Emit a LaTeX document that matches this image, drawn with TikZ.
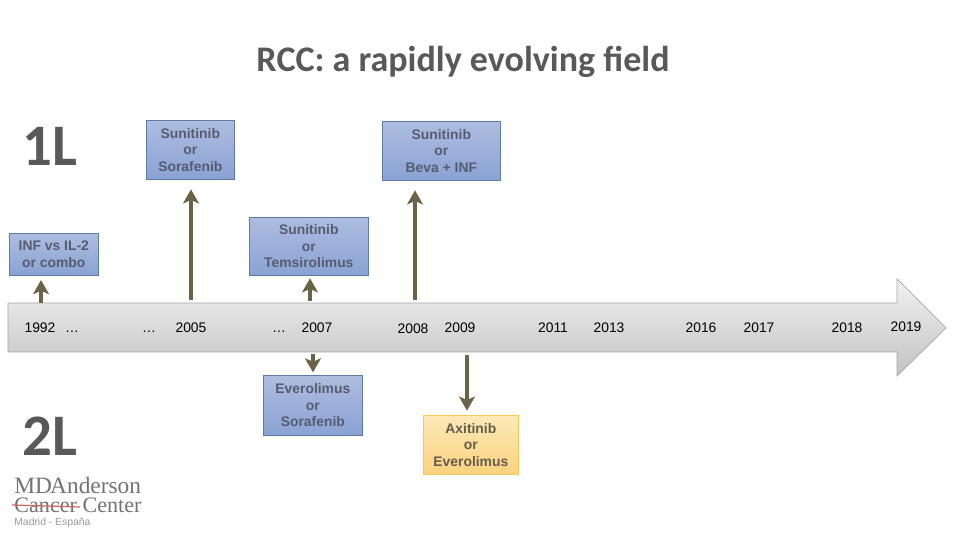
\documentclass[tikz,border=0pt]{standalone}
\usepackage{fontspec}
\setmainfont{Liberation Sans}
\newfontfamily\headfont{Carlito}
\newfontfamily\logofont{Liberation Serif}
\usetikzlibrary{arrows.meta}
\definecolor{headgray}{HTML}{595959}
\definecolor{arrbrown}{HTML}{6B6347}
\definecolor{blueline}{HTML}{5B7BA8}
\definecolor{bluetop}{HTML}{AEBDE0}
\definecolor{bluebot}{HTML}{8AA2D4}
\definecolor{bluetext}{HTML}{565C70}
\definecolor{yelline}{HTML}{F4C957}
\definecolor{yeltop}{HTML}{FDE9B8}
\definecolor{yelbot}{HTML}{FBD27E}
\definecolor{yeltext}{HTML}{645C4C}
\begin{document}
\begin{tikzpicture}[
    x=0.02cm, y=-0.02cm,
    drug/.style={draw=blueline, top color=bluetop, bottom color=bluebot, text=bluetext, align=center, font=\bfseries\fontsize{7.9}{9.4}\selectfont, inner sep=0pt, anchor=north west},
    arr/.style={-{Stealth[length=8pt,width=9pt,inset=2pt]}, line width=2.2pt, draw=arrbrown},
    yr/.style={font=\fontsize{7.9}{9}\selectfont, text=black, inner sep=0pt, text height=5.4pt, text depth=0pt},
    big/.style={font=\headfont\bfseries\fontsize{33.5}{36}\selectfont, text=headgray, inner sep=0pt},
    logo/.style={font=\logofont\fontsize{12.6}{13}\selectfont, text=black!55, inner sep=0pt}
]
\useasboundingbox (0,0) rectangle (960,540);
% title and line labels
\node[font=\headfont\bfseries\fontsize{20.5}{22}\selectfont, text=headgray, inner sep=0pt] (title) at (463,62) {RCC: a rapidly evolving field};
\node[big] (first) at (50,146) {1L};
\node[big] (second) at (50,436) {2L};
% timeline
\draw[draw=black!35, top color=black!5, bottom color=black!24]
    (8,303) -- (897,303) -- (897,279) -- (946,328) -- (897,376) -- (897,352) -- (8,352) -- cycle;
\node[yr] (y1992) at (40,328) {1992};
\node[yr] (d1) at (72,328) {\dots};
\node[yr] (d2) at (149,328) {\dots};
\node[yr] (y2005) at (191,328) {2005};
\node[yr] (d3) at (279,328) {\dots};
\node[yr] (y2007) at (317,328) {2007};
\node[yr] (y2008) at (413,329) {2008};
\node[yr] (y2009) at (460,328) {2009};
\node[yr] (y2011) at (553,328) {2011};
\node[yr] (y2013) at (609,328) {2013};
\node[yr] (y2016) at (701,328) {2016};
\node[yr] (y2017) at (759,328) {2017};
\node[yr] (y2018) at (847,328) {2018};
\node[yr] (y2019) at (906,327) {2019};
% boxes
\node[drug, minimum width=1.76cm, minimum height=1.18cm] (sora) at (146,120) {Sunitinib\\or\\Sorafenib};
\node[drug, minimum width=2.36cm, minimum height=1.18cm] (beva) at (382,121) {Sunitinib\\or\\Beva + INF};
\node[drug, minimum width=1.78cm, minimum height=0.84cm] (inf) at (9,233) {INF vs IL-2\\or combo};
\node[drug, minimum width=2.38cm, minimum height=1.16cm] (tem) at (249,217) {Sunitinib\\or\\Temsirolimus};
\node[drug, minimum width=1.98cm, minimum height=1.2cm] (evero) at (263,375) {Everolimus\\or\\Sorafenib};
\node[drug, draw=yelline, top color=yeltop, bottom color=yelbot, text=yeltext, minimum width=1.9cm, minimum height=1.18cm] (axi) at (423,415) {Axitinib\\or\\Everolimus};
% arrows
\coordinate (s1) at (41,303);
\coordinate (s2) at (191,300);
\coordinate (s3) at (310,301);
\coordinate (s4) at (415,300);
\coordinate (s5) at (313,354);
\coordinate (s6) at (467,355);
\draw[arr, shorten >=2.5pt] (s1) -- (s1 |- inf.south);
\draw[arr, shorten >=5.5pt] (s2) -- (s2 |- sora.south);
\draw[arr, shorten >=1.5pt] (s3) -- (s3 |- tem.south);
\draw[arr, shorten >=5.5pt] (s4) -- (s4 |- beva.south);
\draw[arr, shorten >=1.5pt] (s5) -- (s5 |- evero.north);
\draw[arr, shorten >=2.5pt] (s6) -- (s6 |- axi.north);
% logo
\node[logo, anchor=base west, font=\logofont\fontsize{13.3}{14}\selectfont] (md) at (14,493) {MD\kern-1pt Anderson};
\node[logo, anchor=base west] (cc) at (14,512) {Cancer Center};
\node[anchor=base west, inner sep=0pt, text=black!40, font=\fontsize{5.9}{6}\selectfont] (madrid) at (14,525) {Madrid - España};
\coordinate (ca) at (12,505);
\coordinate (cb) at (80,507);
\draw[draw=red!70!black!60, line width=0.7pt] (ca) -- (cb);
\end{tikzpicture}
\end{document}
